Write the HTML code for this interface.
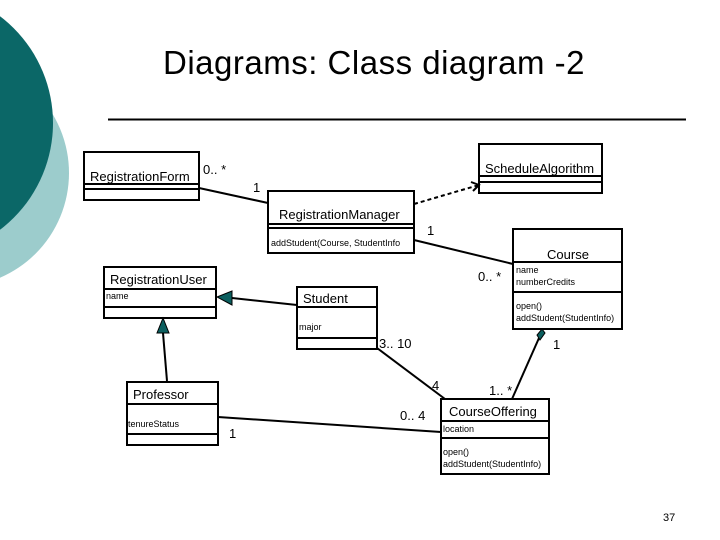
<!DOCTYPE html>
<html><head><meta charset="utf-8"><style>
html,body{margin:0;padding:0;background:#fff;}
svg{display:block;}
text{font-family:"Liberation Sans",sans-serif;fill:#000;}
.n{font-size:13px;}
.s{font-size:9px;}
.m{font-size:13px;}
</style></head><body>
<svg width="720" height="540" viewBox="0 0 720 540" xmlns="http://www.w3.org/2000/svg">
<circle cx="-45" cy="173" r="114" fill="#9ccccc"/>
<circle cx="-81" cy="123" r="134" fill="#0b6767"/>
<text x="374" y="74" font-size="33" text-anchor="middle" style="font-weight:normal;letter-spacing:0.5px">Diagrams: Class diagram -2</text>
<line x1="108" y1="119.5" x2="686" y2="119.5" stroke="#000" stroke-width="2"/>
<g fill="none" stroke="#000" stroke-width="2">
<!-- RegistrationForm -->
<rect x="84" y="152" width="115" height="48"/>
<line x1="84" y1="184" x2="199" y2="184"/><line x1="84" y1="189" x2="199" y2="189"/>
<!-- ScheduleAlgorithm -->
<rect x="479" y="144" width="123" height="49"/>
<line x1="479" y1="176" x2="602" y2="176"/><line x1="479" y1="182" x2="602" y2="182"/>
<!-- RegistrationManager -->
<rect x="268" y="191" width="146" height="62"/>
<line x1="268" y1="224" x2="414" y2="224"/><line x1="268" y1="228" x2="414" y2="228"/>
<!-- Course -->
<rect x="513" y="229" width="109" height="100"/>
<line x1="513" y1="262" x2="622" y2="262"/><line x1="513" y1="292" x2="622" y2="292"/>
<!-- RegistrationUser -->
<rect x="104" y="267" width="112" height="51"/>
<line x1="104" y1="289" x2="216" y2="289"/><line x1="104" y1="307" x2="216" y2="307"/>
<!-- Student -->
<rect x="297" y="287" width="80" height="62"/>
<line x1="297" y1="307" x2="377" y2="307"/><line x1="297" y1="338" x2="377" y2="338"/>
<!-- Professor -->
<rect x="127" y="382" width="91" height="63"/>
<line x1="127" y1="404" x2="218" y2="404"/><line x1="127" y1="434" x2="218" y2="434"/>
<!-- CourseOffering -->
<rect x="441" y="399" width="108" height="75"/>
<line x1="441" y1="421" x2="549" y2="421"/><line x1="441" y1="438" x2="549" y2="438"/>
<!-- connectors -->
<line x1="199" y1="188" x2="268" y2="203"/>
<line x1="414" y1="240" x2="513" y2="264"/>
<line x1="414" y1="204" x2="479" y2="185" stroke-dasharray="4,3"/>
<polyline points="471,182 479,185 473,191"/>
<line x1="232" y1="298" x2="297" y2="305"/>
<line x1="163" y1="333" x2="167" y2="381"/>
<line x1="377" y1="348" x2="445" y2="399"/>
<line x1="218" y1="417" x2="441" y2="432"/>
<line x1="539" y1="338" x2="512" y2="399"/>
</g>
<polygon points="217,297 232,291 232,305" fill="#0b5f5f" stroke="#000" stroke-width="1"/>
<polygon points="163,318 157,333 169,333" fill="#0b5f5f" stroke="#000" stroke-width="1"/>
<polygon points="542,329 545,333 540,340 537,335" fill="#0b5f5f" stroke="#000" stroke-width="1"/>
<!-- labels -->
<text class="n" x="90" y="181">RegistrationForm</text>
<text class="n" x="485" y="173">ScheduleAlgorithm</text>
<text class="n" x="279" y="219">RegistrationManager</text>
<text class="s" x="271" y="246">addStudent(Course, StudentInfo</text>
<text class="n" x="568" y="259" text-anchor="middle">Course</text>
<text class="s" x="516" y="273">name</text>
<text class="s" x="516" y="285">numberCredits</text>
<text class="s" x="516" y="309">open()</text>
<text class="s" x="516" y="321">addStudent(StudentInfo)</text>
<text class="n" x="110" y="284">RegistrationUser</text>
<text class="s" x="106" y="299">name</text>
<text class="n" x="303" y="303">Student</text>
<text class="s" x="299" y="330">major</text>
<text class="n" x="133" y="399">Professor</text>
<text class="s" x="128" y="427">tenureStatus</text>
<text class="n" x="449" y="416">CourseOffering</text>
<text class="s" x="443" y="432">location</text>
<text class="s" x="443" y="455">open()</text>
<text class="s" x="443" y="467">addStudent(StudentInfo)</text>
<text class="m" x="203" y="174">0.. *</text>
<text class="m" x="253" y="192">1</text>
<text class="m" x="427" y="235">1</text>
<text class="m" x="478" y="281">0.. *</text>
<text class="m" x="379" y="348">3.. 10</text>
<text class="m" x="553" y="349">1</text>
<text class="m" x="432" y="390">4</text>
<text class="m" x="489" y="395">1.. *</text>
<text class="m" x="400" y="420">0.. 4</text>
<text class="m" x="229" y="438">1</text>
<text x="663" y="521" font-size="11">37</text>
</svg>
</body></html>
